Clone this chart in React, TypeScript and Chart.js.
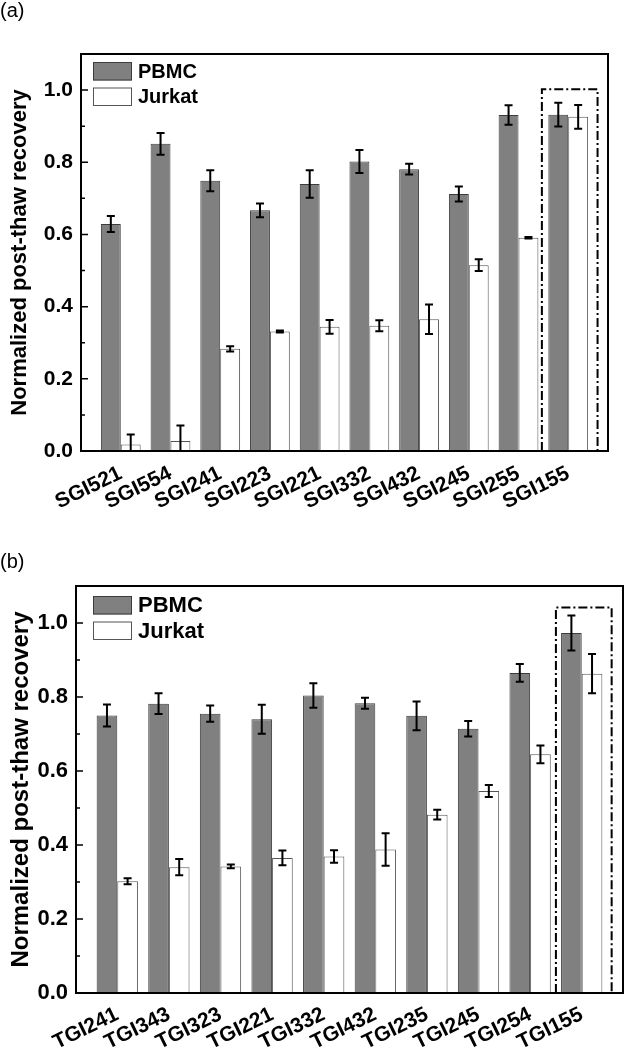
import React, { useEffect, useRef } from "react";
import { Chart, registerables } from "chart.js";

Chart.register(...registerables);

// ---------- data ----------
const labelsA = ["SGI521", "SGI554", "SGI241", "SGI223", "SGI221", "SGI332", "SGI432", "SGI245", "SGI255", "SGI155"];
const pbmcA = [0.629, 0.851, 0.749, 0.667, 0.74, 0.802, 0.781, 0.712, 0.931, 0.932];
const pbmcErrA = [0.022, 0.03, 0.029, 0.019, 0.038, 0.032, 0.015, 0.021, 0.027, 0.033];
const jurkatA = [0.018, 0.028, 0.283, 0.331, 0.344, 0.347, 0.365, 0.515, 0.591, 0.926];
const jurkatErrA = [0.028, 0.043, 0.007, 0.003, 0.019, 0.015, 0.041, 0.016, 0.002, 0.033];

const labelsB = ["TGI241", "TGI343", "TGI323", "TGI221", "TGI332", "TGI432", "TGI235", "TGI245", "TGI254", "TGI155"];
const pbmcB = [0.75, 0.782, 0.755, 0.74, 0.804, 0.783, 0.749, 0.714, 0.865, 0.973];
const pbmcErrB = [0.03, 0.028, 0.022, 0.039, 0.033, 0.015, 0.039, 0.021, 0.024, 0.047];
const jurkatB = [0.302, 0.34, 0.342, 0.365, 0.369, 0.388, 0.482, 0.546, 0.645, 0.863];
const jurkatErrB = [0.008, 0.022, 0.005, 0.02, 0.017, 0.044, 0.013, 0.016, 0.024, 0.053];

const seriesNames = ["PBMC", "Jurkat"];
const yTicks = [0, 0.2, 0.4, 0.6, 0.8, 1.0];
const yMinorTicks = [0.1, 0.3, 0.5, 0.7, 0.9];
const yTitle = "Normalized post-thaw recovery";

// highlight boxes (in axis units)
const boxA = { x0: 8.47, x1: 9.59, y1: 1.002 };
const boxB = { x0: 8.5, x1: 9.58, y1: 1.042 };

const FONT = "'Liberation Sans', Arial, Helvetica, sans-serif";

type PanelCfg = {
  letter: string;
  labels: string[];
  pbmc: number[];
  pbmcErr: number[];
  jurkat: number[];
  jurkatErr: number[];
  box: { x0: number; x1: number; y1: number };
  height: number;
  padTop: number;
  padRight: number;
  yWidth: number;
  xHeight: number;
  tickFont: number;
  xTickFont: number;
  xTickPad: number;
  titleFont: number;
  legendFont: number;
  legendDx: number;
  legendDy: number;
  letterY: number;
};

const panels: PanelCfg[] = [
  {
    letter: "(a)",
    labels: labelsA,
    pbmc: pbmcA,
    pbmcErr: pbmcErrA,
    jurkat: jurkatA,
    jurkatErr: jurkatErrA,
    box: boxA,
    height: 530,
    padTop: 54,
    padRight: 19,
    yWidth: 81,
    xHeight: 79,
    tickFont: 21,
    xTickFont: 21,
    xTickPad: 10,
    titleFont: 22,
    legendFont: 20,
    legendDx: 12,
    legendDy: 8,
    letterY: 11,
  },
  {
    letter: "(b)",
    labels: labelsB,
    pbmc: pbmcB,
    pbmcErr: pbmcErrB,
    jurkat: jurkatB,
    jurkatErr: jurkatErrB,
    box: boxB,
    height: 520,
    padTop: 56,
    padRight: 4,
    yWidth: 76,
    xHeight: 57,
    tickFont: 22,
    xTickFont: 21,
    xTickPad: 9,
    titleFont: 24,
    legendFont: 22,
    legendDx: 17,
    legendDy: 10,
    letterY: 32,
  },
];

function Panel({ cfg }: { cfg: PanelCfg }) {
  const ref = useRef<HTMLCanvasElement | null>(null);

  useEffect(() => {
    if (!ref.current) return;
    const errs = [cfg.pbmcErr, cfg.jurkatErr];

    const overlay = {
      id: "overlay",
      afterDatasetsDraw(chart: any) {
        const ctx = chart.ctx;
        const area = chart.chartArea;
        const xs = chart.scales.x;
        const ys = chart.scales.y;
        ctx.save();

        // error bars
        ctx.beginPath();
        ctx.rect(area.left, area.top, area.right - area.left, area.bottom - area.top);
        ctx.clip();
        ctx.strokeStyle = "#000";
        ctx.lineWidth = 2;
        chart.data.datasets.forEach((ds: any, di: number) => {
          const meta = chart.getDatasetMeta(di);
          meta.data.forEach((el: any, i: number) => {
            const v = ds.data[i].y;
            const e = errs[di][i];
            const yt = ys.getPixelForValue(v + e);
            const yb = ys.getPixelForValue(v - e);
            const cx = el.x;
            ctx.beginPath();
            ctx.moveTo(cx, yt);
            ctx.lineTo(cx, yb);
            ctx.moveTo(cx - 4, yt);
            ctx.lineTo(cx + 4, yt);
            ctx.moveTo(cx - 4, yb);
            ctx.lineTo(cx + 4, yb);
            ctx.stroke();
          });
        });
        ctx.restore();

        ctx.save();
        // dash-dot highlight box
        ctx.strokeStyle = "#000";
        ctx.lineWidth = 2;
        ctx.setLineDash([9, 3, 2, 3]);
        const bx0 = xs.getPixelForValue(cfg.box.x0);
        const bx1 = xs.getPixelForValue(cfg.box.x1);
        const by1 = ys.getPixelForValue(cfg.box.y1);
        const by0 = ys.getPixelForValue(0);
        ctx.beginPath();
        ctx.moveTo(bx0, by0);
        ctx.lineTo(bx0, by1);
        ctx.lineTo(bx1, by1);
        ctx.lineTo(bx1, by0);
        ctx.stroke();
        ctx.setLineDash([]);

        // frame
        ctx.lineWidth = 2;
        ctx.strokeRect(area.left, area.top, area.right - area.left, area.bottom - area.top);

        // inward y ticks
        ctx.lineWidth = 1.5;
        ctx.beginPath();
        yTicks.forEach((t) => {
          const y = ys.getPixelForValue(t);
          ctx.moveTo(area.left, y);
          ctx.lineTo(area.left + 7, y);
        });
        yMinorTicks.forEach((t) => {
          const y = ys.getPixelForValue(t);
          ctx.moveTo(area.left, y);
          ctx.lineTo(area.left + 4, y);
        });
        ctx.stroke();

        // legend
        const lx = area.left + cfg.legendDx;
        let ly = area.top + cfg.legendDy;
        const bw = 39;
        const bh = 18.5;
        chart.data.datasets.forEach((ds: any) => {
          ctx.fillStyle = ds.backgroundColor;
          ctx.fillRect(lx, ly, bw, bh);
          ctx.strokeStyle = ds.borderColor;
          ctx.lineWidth = 1;
          ctx.strokeRect(lx + 0.5, ly + 0.5, bw - 1, bh - 1);
          ctx.fillStyle = "#000";
          ctx.font = `bold ${cfg.legendFont}px ${FONT}`;
          ctx.textBaseline = "middle";
          ctx.textAlign = "left";
          ctx.fillText(ds.label, lx + bw + 6, ly + bh / 2 + 1);
          ly += bh + 7;
        });

        // panel letter
        ctx.font = `20px ${FONT}`;
        ctx.fillStyle = "#000";
        ctx.textAlign = "left";
        ctx.textBaseline = "middle";
        ctx.fillText(cfg.letter, 0, cfg.letterY);
        ctx.restore();
      },
    };

    const chart = new Chart(ref.current, {
      type: "bar",
      data: {
        datasets: [
          {
            label: seriesNames[0],
            data: cfg.pbmc.map((v, i) => ({ x: i, y: v })),
            backgroundColor: "#808080",
            borderColor: "#3c3c3c",
            borderWidth: 1,
            borderSkipped: "bottom",
          },
          {
            label: seriesNames[1],
            data: cfg.jurkat.map((v, i) => ({ x: i, y: v })),
            backgroundColor: "#ffffff",
            borderColor: "#555555",
            borderWidth: 1,
            borderSkipped: "bottom",
          },
        ],
      },
      options: {
        animation: false,
        responsive: false,
        devicePixelRatio: 1,
        layout: { padding: { left: 0, right: cfg.padRight, top: cfg.padTop, bottom: 0 } },
        datasets: { bar: { categoryPercentage: 0.8, barPercentage: 1.0 } },
        plugins: { legend: { display: false }, tooltip: { enabled: false } },
        scales: {
          x: {
            type: "linear",
            offset: false,
            min: -0.8,
            max: 9.8,
            grid: { display: false, drawTicks: false, offset: false },
            border: { display: false },
            afterBuildTicks: (s: any) => {
              s.ticks = cfg.labels.map((_, i) => ({ value: i }));
            },
            afterFit: (s: any) => {
              s.height = cfg.xHeight;
            },
            ticks: {
              autoSkip: false,
              minRotation: 26,
              maxRotation: 26,
              padding: cfg.xTickPad,
              color: "#000",
              font: { family: FONT, size: cfg.xTickFont, weight: "bold" },
              callback: (v: any) => cfg.labels[Math.round(v)] ?? "",
            },
          },
          y: {
            type: "linear",
            min: 0,
            max: 1.1,
            grid: { display: false, drawTicks: false },
            border: { display: false },
            afterBuildTicks: (s: any) => {
              s.ticks = yTicks.map((v) => ({ value: v }));
            },
            afterFit: (s: any) => {
              s.width = cfg.yWidth;
            },
            ticks: {
              padding: 8,
              color: "#000",
              font: { family: FONT, size: cfg.tickFont, weight: "bold" },
              callback: (v: any) => Number(v).toFixed(1),
            },
            title: {
              display: true,
              text: yTitle,
              color: "#000",
              padding: { top: 7, bottom: 0 },
              font: { family: FONT, size: cfg.titleFont, weight: "bold" },
            },
          },
        },
      },
      plugins: [overlay],
    } as any);

    return () => chart.destroy();
  }, [cfg]);

  return <canvas ref={ref} width={627} height={cfg.height} style={{ display: "block", width: 627, height: cfg.height }} />;
}

export default function App() {
  return (
    <div style={{ position: "absolute", left: 0, top: 0, width: 627, height: 1050, background: "#fff" }}>
      {panels.map((p) => (
        <Panel key={p.letter} cfg={p} />
      ))}
    </div>
  );
}
